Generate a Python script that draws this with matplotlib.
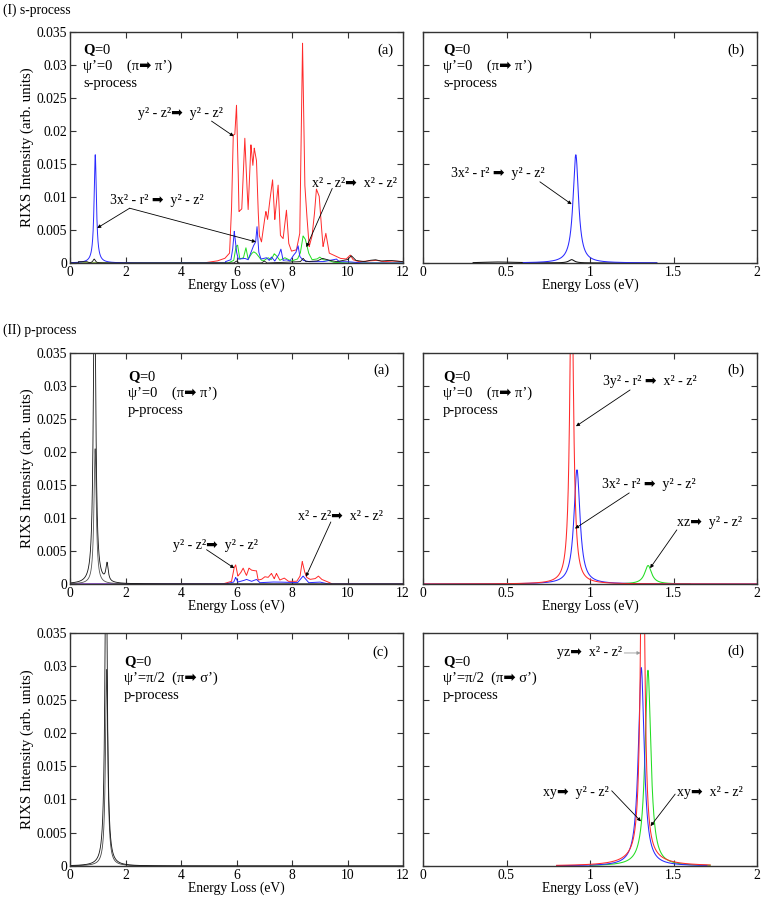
import numpy as np
import matplotlib
matplotlib.use("Agg")
import matplotlib.pyplot as plt
from matplotlib.ticker import FuncFormatter

plt.rcParams['font.family'] = ['Liberation Serif', 'DejaVu Sans']
plt.rcParams['mathtext.fontset'] = 'custom'
plt.rcParams['mathtext.rm'] = 'Liberation Serif'
plt.rcParams['mathtext.it'] = 'Liberation Serif:italic'
plt.rcParams['mathtext.bf'] = 'Liberation Serif:bold'

# ---------------- DATA ----------------
# Wide panels (0-12 eV): multiplet traces (energy, intensity)
S_RED_E = [0.0, 4.8, 5.3, 5.58, 5.75, 5.82, 5.88, 5.94, 6.00, 6.05, 6.09, 6.19, 6.30, 6.36, 6.42, 6.52,
           6.59, 6.64, 6.72, 6.77, 6.82, 6.90, 7.00, 7.06, 7.12, 7.18, 7.30, 7.38, 7.50, 7.58, 7.68,
           7.80, 7.88, 7.98, 8.16, 8.28, 8.38, 8.46, 8.52, 8.62, 8.72, 8.80, 8.88, 8.98, 9.05, 9.12,
           9.22, 9.34, 9.50, 9.74, 9.95, 10.10, 10.20, 10.40, 10.7, 11.05, 11.3, 11.6, 12.0]
S_RED_I = [0.0, 0.0, 0.0003, 0.0007, 0.0015, 0.008, 0.0194, 0.0195, 0.0239, 0.016, 0.0078, 0.0082,
           0.0189, 0.013, 0.0081, 0.0179, 0.0148, 0.0174, 0.0155, 0.009, 0.0042, 0.0032, 0.0063,
           0.0078, 0.0066, 0.0088, 0.0126, 0.0066, 0.0118, 0.0042, 0.0037, 0.0080, 0.0030, 0.0018,
           0.0020, 0.0045, 0.0333, 0.0120, 0.0080, 0.0025, 0.0040, 0.0070, 0.0112, 0.0101, 0.0060,
           0.0025, 0.0045, 0.0015, 0.0012, 0.0007, 0.0006, 0.0012, 0.0005, 0.0002, 0.0003, 0.0004,
           0.0002, 0.0003, 0.0002]

S_BLUE_E = [5.6, 5.8, 5.86, 5.92, 6.0, 6.06, 6.3, 6.42, 6.6, 6.69, 6.74, 6.8, 6.88, 7.08, 7.18, 7.26,
            7.38, 7.52, 7.6, 7.68, 7.8, 7.92, 8.04, 8.14, 8.22, 8.28, 8.4, 8.6, 9.12, 9.6, 9.7, 10.0, 10.5]
S_BLUE_I = [0.0002, 0.0005, 0.002, 0.0048, 0.0017, 0.0006, 0.0007, 0.0005, 0.0025, 0.0032, 0.0055,
            0.0017, 0.0006, 0.0008, 0.0004, 0.0009, 0.0003, 0.0012, 0.0021, 0.0004, 0.0005, 0.0003,
            0.0011, 0.0016, 0.0026, 0.0010, 0.0004, 0.0002, 0.0002, 0.0006, 0.0002, 0.0002, 0.0]
S_BLUE_PEAK_E = [0.91]
S_BLUE_PEAK_I = [0.0164]

S_GREEN_E = [5.7, 5.9, 5.98, 6.04, 6.12, 6.25, 6.34, 6.42, 6.54, 6.62, 6.7, 6.78, 6.9, 7.0, 7.14, 7.25,
             7.36, 7.44, 7.56, 7.74, 7.98, 8.2, 8.3, 8.4, 8.48, 8.6, 8.72, 8.9, 9.0, 9.12, 9.3, 9.5, 10.0]
S_GREEN_I = [0.0, 0.0004, 0.0025, 0.0027, 0.0006, 0.0008, 0.0023, 0.0006, 0.0014, 0.0017, 0.0015,
             0.0011, 0.0004, 0.0004, 0.0008, 0.0005, 0.0014, 0.0011, 0.0004, 0.0008, 0.0003, 0.0006,
             0.0015, 0.0041, 0.0036, 0.0015, 0.0005, 0.0006, 0.0009, 0.0005, 0.0004, 0.0001, 0.0]

S_BLACK_E = [0.3, 0.6, 0.7, 5.9, 6.0, 6.1, 6.9, 7.0, 7.1, 8.3, 8.4, 8.5, 8.9, 9.1, 9.36, 9.6, 10.0,
             10.14, 10.3, 10.6, 10.8, 11.0, 11.2, 11.5, 11.8, 12.0]
S_BLACK_I = [0.0002, 0.0002, 0.0, 0.0, 0.0003, 0.0, 0.0, 0.0003, 0.0, 0.0002, 0.0007, 0.0002, 0.0003,
             0.0007, 0.0004, 0.0002, 0.0005, 0.0011, 0.0004, 0.0002, 0.0004, 0.0005, 0.0003, 0.0004,
             0.0003, 0.0002]
S_BLACK_PEAK_E = [0.87]
S_BLACK_PEAK_I = [0.0006]

P_RED_E = [5.5, 5.82, 5.91, 5.97, 6.05, 6.15, 6.24, 6.3, 6.36, 6.45, 6.54, 6.66, 6.72, 6.78, 6.9, 7.02,
           7.14, 7.26, 7.36, 7.44, 7.56, 7.72, 7.87, 8.17, 8.29, 8.37, 8.45, 8.53, 8.65, 8.83, 8.95,
           9.07, 9.25, 9.45]
P_RED_I = [0.0, 0.0004, 0.0024, 0.0029, 0.0012, 0.0017, 0.0024, 0.0018, 0.0013, 0.0024, 0.0021,
           0.0020, 0.0020, 0.0006, 0.0007, 0.0011, 0.0010, 0.0016, 0.0008, 0.0016, 0.0006, 0.0009,
           0.0004, 0.0004, 0.0012, 0.0034, 0.0019, 0.0010, 0.0007, 0.0008, 0.0012, 0.0007, 0.0004, 0.0]
P_BLUE_E = [5.6, 5.9, 5.97, 6.05, 6.24, 6.36, 6.54, 6.72, 6.84, 7.26, 7.5, 8.2, 8.4, 8.6, 9.0, 9.3]
P_BLUE_I = [0.0, 0.0003, 0.0010, 0.0003, 0.0005, 0.0007, 0.0004, 0.0007, 0.0002, 0.0003, 0.0003,
            0.0002, 0.0012, 0.0002, 0.0003, 0.0]
P_BLACK_PEAK_E = [0.885, 1.335]
P_BLACK_PEAK_I = [0.05, 0.0027]
P_BLACK2_PEAK_E = [0.905]
P_BLACK2_PEAK_I = [0.0205]

C_BLACK_PEAK_E = [1.30]
C_BLACK_PEAK_I = [0.05]
C_BLACK2_PEAK_E = [1.32]
C_BLACK2_PEAK_I = [0.0295]

# Zoomed panels (0-2 eV): Lorentzian peaks (centre, height, half width)
SB_BLUE = dict(E=[0.915], I=[0.0164], G=[0.02], lo=0.6, hi=1.4)
SB_BLACK = dict(E=[0.45, 0.89], I=[0.00015, 0.0005], G=[0.12, 0.02], lo=0.3, hi=1.4)
PB_RED = dict(E=[0.89], I=[0.05], G=[0.013], lo=0.0, hi=2.0)
PB_BLUE = dict(E=[0.922], I=[0.0173], G=[0.022], lo=0.0, hi=2.0)
PB_GREEN = dict(E=[1.348], I=[0.0028], G=[0.025], lo=1.2, hi=1.6)
PD_RED = dict(E=[1.315, 1.315], I=[0.07, 0.0012], G=[0.012, 0.12], lo=0.8, hi=1.72)
PD_BLUE = dict(E=[1.307], I=[0.0298], G=[0.021], lo=0.8, hi=1.7)
PD_GREEN = dict(E=[1.347], I=[0.0294], G=[0.021], lo=1.0, hi=1.72)

Y_TICKS = [0, 0.005, 0.01, 0.015, 0.02, 0.025, 0.03, 0.035]
X_TICKS_WIDE = [0, 2, 4, 6, 8, 10, 12]
X_TICKS_ZOOM = [0, 0.5, 1, 1.5, 2]

RED, BLUE, GREEN, BLACK = '#ff2a2a', '#2a2aff', '#22dd22', '#111111'
GAMMA_WIDE = 0.05


def lorentz(x, centres, heights, widths):
    y = np.zeros_like(x)
    for c, h, g in zip(centres, heights, widths):
        y += h * g ** 2 / ((x - c) ** 2 + g ** 2)
    return y


def wide_curve(x, tE=None, tI=None, pE=(), pI=()):
    y = np.zeros_like(x)
    if tE is not None:
        y += np.interp(x, tE, tI, left=0.0, right=0.0)
    y += lorentz(x, pE, pI, [GAMMA_WIDE] * len(pE))
    return y


def zoom_curve(ax, d, color):
    x = np.linspace(d['lo'], d['hi'], 3000)
    ax.plot(x, lorentz(x, d['E'], d['I'], d['G']), color=color, lw=0.75)


W, H = 763, 901
fig = plt.figure(figsize=(W / 100, H / 100), dpi=100)


def make_ax(x0, y0, x1, y1):
    return fig.add_axes([x0 / W, 1 - y1 / H, (x1 - x0) / W, (y1 - y0) / H])


ax1 = make_ax(70, 32, 403, 263)
ax2 = make_ax(423, 32, 757, 263)
ax3 = make_ax(70, 353, 403, 584)
ax4 = make_ax(423, 353, 757, 584)
ax5 = make_ax(70, 633, 403, 866)
ax6 = make_ax(423, 633, 757, 866)

FS_TICK = 9.8
FS_XLAB = 9.8
FS_YLAB = 10.8
FS_TXT = 10.5
FS_NOTE = 10.0


def style(ax, wide, left):
    ax.set_ylim(0, 0.035)
    if wide:
        ax.set_xlim(0, 12)
        ax.set_xticks(X_TICKS_WIDE)
    else:
        ax.set_xlim(0, 2)
        ax.set_xticks(X_TICKS_ZOOM)
    ax.xaxis.set_major_formatter(FuncFormatter(lambda v, p: '%g' % v))
    ax.set_yticks(Y_TICKS)
    ax.yaxis.set_major_formatter(FuncFormatter(lambda v, p: '%g' % v))
    ax.tick_params(direction='in', top=True, right=True, length=4, width=0.8,
                   labelsize=FS_TICK, pad=2, colors='#333333', labelcolor='black')
    if not left:
        ax.tick_params(labelleft=False)
    else:
        ax.set_ylabel('RIXS Intensity (arb. units)', fontsize=FS_YLAB, labelpad=2)
    ax.set_xlabel('Energy Loss (eV)', fontsize=FS_XLAB, labelpad=0)
    for s in ax.spines.values():
        s.set_linewidth(1.0)
        s.set_color('#333333')


def info(ax, x, y, line2, line3):
    dy = 0.072
    ax.text(x, y, r'$\mathbf{Q}$=0', transform=ax.transAxes, fontsize=FS_TXT, va='center', ha='left')
    ax.text(x, y - dy, line2, transform=ax.transAxes, fontsize=FS_TXT, va='center', ha='left')
    ax.text(x, y - 2 * dy, line3, transform=ax.transAxes, fontsize=FS_TXT, va='center', ha='left')


def label(ax, x, y, s):
    ax.text(x, y, s, transform=ax.transAxes, fontsize=FS_TXT, va='center', ha='center')


def note(ax, tx, ty, s, start, targets, color='k'):
    ax.text(tx, ty, s, fontsize=FS_NOTE, va='center', ha='left')
    for t in targets:
        ax.annotate('', xy=t, xytext=start,
                    arrowprops=dict(arrowstyle='-|>', lw=0.6, color=color,
                                    mutation_scale=5, shrinkA=0, shrinkB=0))


PIPI = "ψ’=0    (π➡ π’)"
PISIG = "ψ’=π/2  (π➡ σ’)"

# ---- (I)(a)
xw = np.linspace(0, 12, 6001)
ax1.plot(xw, wide_curve(xw, S_RED_E, S_RED_I), color=RED, lw=0.7)
ax1.plot(xw, wide_curve(xw, S_GREEN_E, S_GREEN_I), color=GREEN, lw=0.7)
ax1.plot(xw, wide_curve(xw, S_BLUE_E, S_BLUE_I, S_BLUE_PEAK_E, S_BLUE_PEAK_I), color=BLUE, lw=0.7)
ax1.plot(xw, wide_curve(xw, S_BLACK_E, S_BLACK_I, S_BLACK_PEAK_E, S_BLACK_PEAK_I), color=BLACK, lw=0.6)
style(ax1, True, True)
info(ax1, 0.039, 0.922, PIPI, 's-process')
label(ax1, 0.946, 0.922, '(a)')
note(ax1, 2.45, 0.0227, 'y² - z²➡  y² - z²', (5.1, 0.0215), [(5.9, 0.0192)])
note(ax1, 1.45, 0.0095, '3x² - r² ➡  y² - z²', (2.15, 0.0083),
     [(0.98, 0.0053), (6.7, 0.0032)])
note(ax1, 8.72, 0.0121, 'x² - z²➡  x² - z²', (9.45, 0.0113), [(8.52, 0.0024)])

# ---- (I)(b)
style(ax2, False, False)
zoom_curve(ax2, SB_BLACK, BLACK)
zoom_curve(ax2, SB_BLUE, BLUE)
info(ax2, 0.06, 0.922, PIPI, 's-process')
label(ax2, 0.937, 0.922, '(b)')
note(ax2, 0.17, 0.0136, '3x² - r² ➡  y² - z²', (0.70, 0.0123), [(0.89, 0.0089)])

# ---- (II)(a)
ax3.plot(xw, wide_curve(xw, P_RED_E, P_RED_I), color=RED, lw=0.7)
ax3.plot(xw, wide_curve(xw, P_BLUE_E, P_BLUE_I), color=BLUE, lw=0.7)
ax3.plot(xw, wide_curve(xw, None, None, P_BLACK2_PEAK_E, P_BLACK2_PEAK_I), color='#555555', lw=0.6)
ax3.plot(xw, wide_curve(xw, None, None, P_BLACK_PEAK_E, P_BLACK_PEAK_I), color=BLACK, lw=0.6)
style(ax3, True, True)
info(ax3, 0.174, 0.896, PIPI, 'p-process')
label(ax3, 0.936, 0.926, '(a)')
note(ax3, 3.71, 0.0059, 'y² - z²➡  y² - z²', (4.92, 0.0052), [(5.92, 0.0024)])
note(ax3, 8.21, 0.0103, 'x² - z²➡  x² - z²', (9.4, 0.0094), [(8.5, 0.0011)])

# ---- (II)(b)
style(ax4, False, False)
zoom_curve(ax4, PB_GREEN, GREEN)
zoom_curve(ax4, PB_BLUE, BLUE)
zoom_curve(ax4, PB_RED, RED)
info(ax4, 0.06, 0.896, PIPI, 'p-process')
label(ax4, 0.937, 0.926, '(b)')
note(ax4, 1.076, 0.0307, '3y² - r² ➡  x² - z²', (1.24, 0.0294), [(0.916, 0.0239)])
note(ax4, 1.07, 0.0151, '3x² - r² ➡  y² - z²', (1.235, 0.0138), [(0.91, 0.0084)])
note(ax4, 1.52, 0.0093, 'xz➡  y² - z²', (1.52, 0.0082), [(1.36, 0.0024)])

# ---- (II)(c)
ax5.plot(xw, wide_curve(xw, None, None, C_BLACK2_PEAK_E, C_BLACK2_PEAK_I), color='#444444', lw=0.6)
ax5.plot(xw, wide_curve(xw, None, None, C_BLACK_PEAK_E, C_BLACK_PEAK_I), color=BLACK, lw=0.6)
style(ax5, True, True)
info(ax5, 0.162, 0.876, PISIG, 'p-process')
label(ax5, 0.931, 0.918, '(c)')

# ---- (II)(d)
style(ax6, False, False)
zoom_curve(ax6, PD_GREEN, GREEN)
zoom_curve(ax6, PD_BLUE, BLUE)
zoom_curve(ax6, PD_RED, RED)
info(ax6, 0.06, 0.877, PISIG, 'p-process')
label(ax6, 0.937, 0.92, '(d)')
note(ax6, 0.80, 0.032, 'yz➡  x² - z²', (1.205, 0.032), [(1.303, 0.032)], color='#999999')
note(ax6, 0.72, 0.0111, 'xy➡  y² - z²', (1.13, 0.0113), [(1.305, 0.0067)])
note(ax6, 1.52, 0.0111, 'xy➡  x² - z²', (1.51, 0.0108), [(1.363, 0.006)])

fig.text(3 / W, 1 - 10 / H, '(I) s-process', fontsize=9.8, va='center', ha='left')
fig.text(3 / W, 1 - 330 / H, '(II) p-process', fontsize=9.8, va='center', ha='left')

fig.savefig('out.png', dpi=100)
